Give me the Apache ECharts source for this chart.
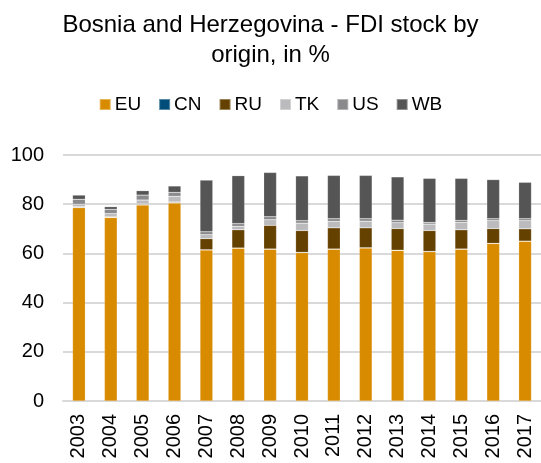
<!DOCTYPE html>
<html>
<head>
<meta charset="utf-8">
<script src="https://cdn.jsdelivr.net/npm/echarts@6/dist/echarts.min.js"></script>
<style>
  html, body { margin: 0; padding: 0; background: #fff; }
  #chart { width: 541px; height: 463px; }
</style>
</head>
<body>
<div id="chart"></div>
<script>
const years = ['2003', '2004', '2005', '2006', '2007', '2008', '2009', '2010',
  '2011', '2012', '2013', '2014', '2015', '2016', '2017']
const eu = [78.6, 74.6, 79.7, 80.5, 61.4, 62.1, 61.7, 60.3, 61.7, 62.2, 61.2, 60.7, 61.7, 64.0, 64.9]
const cn = [0.1, 0.1, 0.1, 0.1, 0.1, 0.1, 0.1, 0.1, 0.1, 0.1, 0.1, 0.1, 0.1, 0.1, 0.1]
const ru = [0.3, 0.3, 0.3, 0.3, 4.5, 7.4, 9.6, 8.9, 8.6, 8.1, 8.8, 8.5, 7.8, 6.0, 5.0]
const tk = [1.0, 1.2, 1.6, 2.3, 1.6, 1.4, 2.3, 3.0, 2.6, 2.7, 2.4, 2.6, 3.0, 3.2, 3.3]
const us = [2.0, 1.7, 2.0, 1.6, 1.2, 1.1, 1.2, 1.0, 1.1, 1.0, 1.0, 0.7, 0.8, 0.8, 0.8]
const wb = [1.7, 1.1, 1.8, 2.6, 21.0, 19.5, 18.0, 18.2, 17.6, 17.6, 17.6, 17.9, 17.1, 15.9, 14.8]
const yTicks = [0, 20, 40, 60, 80, 100]

const chart = echarts.init(document.getElementById('chart'))

const font = 'Liberation Sans, Arial, sans-serif'
const mk = (name, data, color) => ({
  name,
  type: 'bar',
  stack: 'total',
  data,
  barWidth: '40%',
  itemStyle: { color, borderColor: 'rgba(255,255,255,0.35)', borderWidth: 0.5 },
  emphasis: { disabled: true }
})

chart.setOption({
  animation: false,
  textStyle: { fontFamily: font },
  title: {
    text: 'Bosnia and Herzegovina - FDI stock by\norigin, in %',
    left: 'center',
    top: 5,
    textStyle: { fontSize: 24, fontWeight: 'normal', color: '#000', lineHeight: 30, fontFamily: font }
  },
  legend: {
    top: 90,
    left: 'center',
    itemWidth: 11,
    itemHeight: 11,
    itemGap: 17,
    icon: 'rect',
    textStyle: { fontSize: 19, color: '#000', fontFamily: font, padding: [0, 0, 0, -1] },
    data: ['EU', 'CN', 'RU', 'TK', 'US', 'WB']
  },
  grid: { left: 63, right: -3, top: 155, bottom: 62, containLabel: false },
  xAxis: {
    type: 'category',
    data: years,
    axisLine: { show: true, lineStyle: { color: '#d9d9d9', width: 2 } },
    axisTick: { show: false },
    axisLabel: { rotate: 90, fontSize: 20, color: '#000', margin: 13, fontFamily: font }
  },
  yAxis: {
    type: 'value',
    min: yTicks[0],
    max: yTicks[yTicks.length - 1],
    interval: 20,
    axisLine: { show: false },
    axisTick: { show: false },
    splitLine: { lineStyle: { color: '#d9d9d9', width: 2 } },
    axisLabel: { fontSize: 20, color: '#000', margin: 19, fontFamily: font }
  },
  series: [
    mk('EU', eu, '#d98b00'),
    mk('CN', cn, '#004d7a'),
    mk('RU', ru, '#654100'),
    mk('TK', tk, '#bbbbbd'),
    mk('US', us, '#8a8a8c'),
    mk('WB', wb, '#555555')
  ]
})

window.addEventListener('resize', () => chart.resize())
</script>
</body>
</html>
